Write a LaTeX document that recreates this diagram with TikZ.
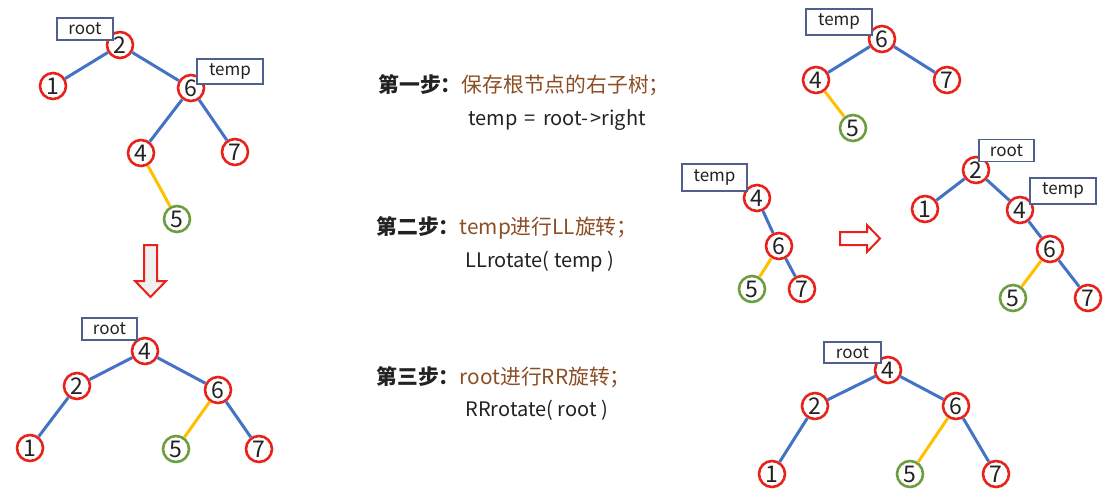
\documentclass[tikz,border=0pt]{standalone}
\usepackage{fontspec}
\setmainfont{Noto Sans CJK SC}
\definecolor{cred}{RGB}{232,34,27}
\definecolor{cgreen}{RGB}{108,158,64}
\definecolor{cblue}{RGB}{68,114,196}
\definecolor{cyel}{RGB}{255,192,0}
\definecolor{cbox}{RGB}{80,96,140}
\definecolor{cbrown}{RGB}{140,78,36}
\definecolor{ctext}{RGB}{34,34,34}
\newcommand\wsp{\hspace{0.36em}}
\tikzset{
  x=1pt,y=-1pt,
  tn/.style={circle,draw=cred,line width=2.6pt,fill=white,inner sep=0pt,minimum size=26pt,font=\fontsize{23}{23}\selectfont,text=ctext},
  gn/.style={tn,draw=cgreen},
  lbl/.style={rectangle,draw=cbox,line width=1.1pt,fill=white,inner sep=0pt,font=\fontsize{17}{17}\selectfont,text=ctext},
  be/.style={cblue,line width=3pt},
  ye/.style={cyel,line width=3pt},
  step1/.style={anchor=west,font=\fontsize{20.8}{20.8}\selectfont,text=ctext},
  code/.style={anchor=west,font=\fontsize{20}{20}\selectfont,text=ctext},
}
\begin{document}
\begin{tikzpicture}
\useasboundingbox (0,0) rectangle (1106,495);
% ---------- Tree A
\node[tn] (a2) at (120,45) {2};
\node[tn] (a1) at (53,86) {1};
\node[tn] (a6) at (191,88) {6};
\node[tn] (a4) at (141,153) {4};
\node[tn] (a7) at (235,152) {7};
\node[gn] (a5) at (177,219) {5};
\draw[be] (a2) -- (a1); \draw[be] (a2) -- (a6);
\draw[be] (a6) -- (a4); \draw[be] (a6) -- (a7);
\draw[ye] (a4) -- (a5);
\node[lbl,minimum width=56pt,minimum height=22pt] (aroot) at (85,29) {root};
\node[lbl,minimum width=66pt,minimum height=25pt] (atemp) at (230,71.5) {temp};
% ---------- down arrow
\draw[cred,line width=2pt,fill=gray!12,line join=miter]
  (144,245) -- (157,245) -- (157,281) -- (166,281) -- (150.5,297) -- (135,281) -- (144,281) -- cycle;
% ---------- Tree B
\node[tn] (b4) at (145,351) {4};
\node[tn] (b2) at (77,386) {2};
\node[tn] (b6) at (218,390) {6};
\node[tn] (b1) at (30,448) {1};
\node[gn] (b5) at (176,449) {5};
\node[tn] (b7) at (259,449) {7};
\draw[be] (b4) -- (b2); \draw[be] (b4) -- (b6);
\draw[be] (b2) -- (b1); \draw[be] (b6) -- (b7);
\draw[ye] (b6) -- (b5);
\node[lbl,minimum width=55pt,minimum height=22pt] (broot) at (109.5,329) {root};
% ---------- text
\node[step1] (t1) at (375,85) {\textbf{第一步：}\textcolor{cbrown}{保存根节点的右子树；}};
\node[code] (c1) at (465,120) {temp\wsp=\wsp root-\hspace{0.1em}>right};
\node[step1] (t2) at (373,228) {\textbf{第二步：}\textcolor{cbrown}{temp进行LL旋转；}};
\node[code] (c2) at (462,262) {LLrotate( temp )};
\node[step1] (t3) at (373,377) {\textbf{第三步：}\textcolor{cbrown}{root进行RR旋转；}};
\node[code] (c3) at (462,410) {RRrotate( root )};
% ---------- Tree C
\node[tn] (c6) at (882,39) {6};
\node[tn] (c4n) at (816,80) {4};
\node[tn] (c7) at (947,80) {7};
\node[gn] (c5) at (853,128) {5};
\draw[be] (c6) -- (c4n); \draw[be] (c6) -- (c7);
\draw[ye] (c4n) -- (c5);
\node[lbl,minimum width=66pt,minimum height=26pt] (ctemp) at (839,22) {temp};
% ---------- Tree D
\node[tn] (d4) at (757,198) {4};
\node[tn] (d6) at (779,246) {6};
\node[gn] (d5) at (752,289) {5};
\node[tn] (d7) at (802,289) {7};
\draw[be] (d4) -- (d6); \draw[be] (d6) -- (d7);
\draw[ye] (d6) -- (d5);
\node[lbl,minimum width=65pt,minimum height=27pt] (dtemp) at (714.5,177.5) {temp};
% ---------- right arrow
\draw[cred,line width=2pt,fill=white,line join=miter]
  (840,232) -- (867,232) -- (867,225) -- (880,238.5) -- (867,252) -- (867,245) -- (840,245) -- cycle;
% ---------- Tree E
\node[tn] (e2) at (976,170) {2};
\node[tn] (e1) at (925,209) {1};
\node[tn] (e4) at (1020,210) {4};
\node[tn] (e6) at (1050,249) {6};
\node[gn] (e5) at (1013,298) {5};
\node[tn] (e7) at (1088,298) {7};
\draw[be] (e2) -- (e1); \draw[be] (e2) -- (e4);
\draw[be] (e4) -- (e6); \draw[be] (e6) -- (e7);
\draw[ye] (e6) -- (e5);
\node[lbl,minimum width=55pt,minimum height=22pt] (eroot) at (1006.5,150.5) {root};
\node[lbl,minimum width=66pt,minimum height=26pt] (etemp) at (1063,191) {temp};
% ---------- Tree F
\node[tn] (f4) at (888,370) {4};
\node[tn] (f2) at (815,406) {2};
\node[tn] (f6) at (956,406) {6};
\node[tn] (f1) at (772,474) {1};
\node[gn] (f5) at (910,474) {5};
\node[tn] (f7) at (996,474) {7};
\draw[be] (f4) -- (f2); \draw[be] (f4) -- (f6);
\draw[be] (f2) -- (f1); \draw[be] (f6) -- (f7);
\draw[ye] (f6) -- (f5);
\node[lbl,minimum width=57pt,minimum height=21pt] (froot) at (852.5,352.5) {root};
\end{tikzpicture}
\end{document}
